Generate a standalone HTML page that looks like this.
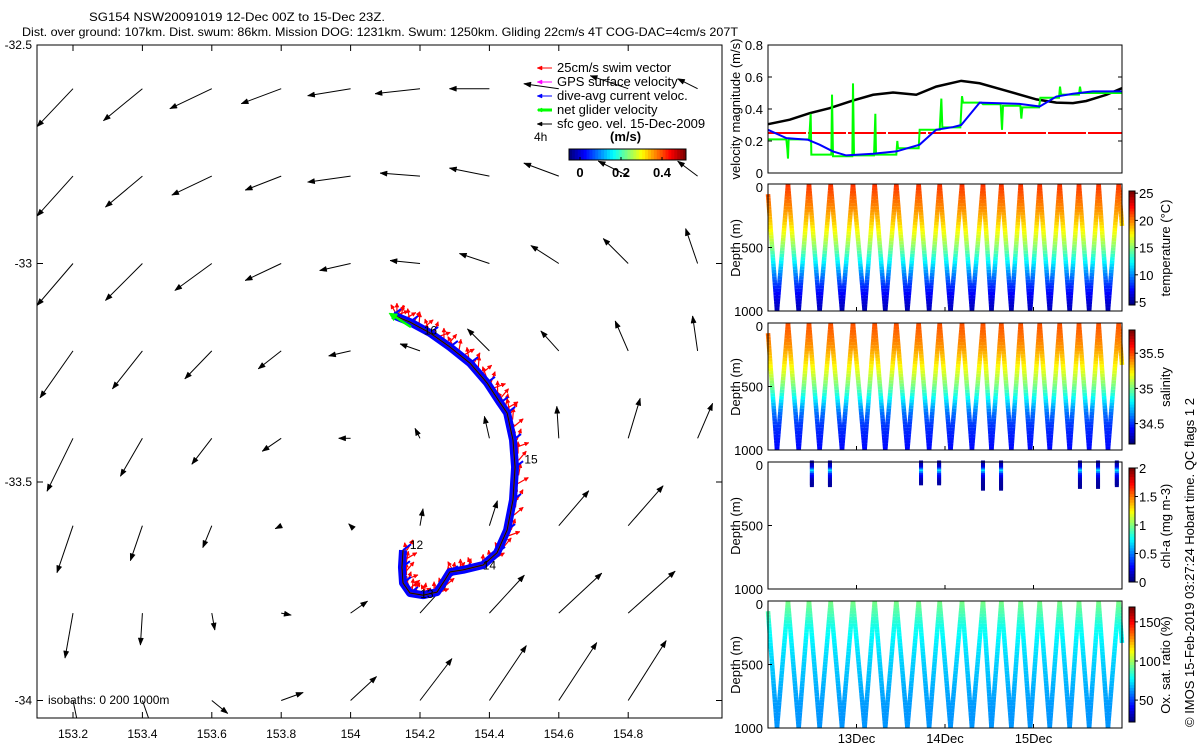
<!DOCTYPE html>
<html><head><meta charset="utf-8"><title>SG154 glider chart</title>
<style>
html,body{margin:0;padding:0;background:#fff;}
svg{display:block;font-family:"Liberation Sans",sans-serif;font-size:12px;}
</style></head>
<body>
<svg id="chart" width="1200" height="750" viewBox="0 0 1200 750" xmlns="http://www.w3.org/2000/svg">
<rect x="0" y="0" width="1200" height="750" fill="#fff"/>
<text x="89" y="21" textLength="296" lengthAdjust="spacingAndGlyphs">SG154 NSW20091019 12-Dec 00Z to 15-Dec 23Z.</text>
<text x="22" y="36" textLength="716" lengthAdjust="spacingAndGlyphs">Dist. over ground: 107km. Dist. swum: 86km. Mission DOG: 1231km. Swum: 1250km. Gliding 22cm/s 4T COG-DAC=4cm/s 207T</text>
<g id="map"></g>
<g id="vel"></g>
<g id="prof"></g>
<text transform="translate(1194,727) rotate(-90)" font-size="13">© IMOS 15-Feb-2019 03:27:24 Hobart time. QC flags 1  2</text>
</svg>
<script>
// ---------- DATA ----------
const gridLon = [153.2,153.4,153.6,153.8,154.0,154.2,154.4,154.6,154.8,155.0];
const gridLat = [-32.6,-32.8,-33.0,-33.2,-33.4,-33.6,-33.8,-34.0];
const quivU = [
 [-0.36,-0.39,-0.42,-0.40,-0.43,-0.45,-0.40,-0.35,-0.38,-0.20],
 [-0.36,-0.37,-0.40,-0.36,-0.43,-0.40,-0.40,-0.35,-0.30,-0.20],
 [-0.36,-0.37,-0.37,-0.36,-0.31,-0.30,-0.30,-0.28,-0.25,-0.12],
 [-0.33,-0.30,-0.27,-0.23,-0.22,-0.20,-0.22,-0.18,-0.13,-0.05],
 [-0.26,-0.22,-0.20,-0.19,-0.12,-0.05,-0.05,-0.02,0.12,0.15],
 [-0.16,-0.12,-0.09,-0.06,-0.02,0.03,0.08,0.30,0.35,0.00],
 [-0.08,-0.02,0.03,0.10,0.17,0.27,0.35,0.43,0.47,0.00],
 [0.10,0.14,0.16,0.22,0.26,0.32,0.37,0.38,0.38,0.00]];
const quivV = [
 [-0.38,-0.32,-0.20,-0.15,-0.07,-0.05,0.00,0.05,0.13,0.10],
 [-0.40,-0.31,-0.19,-0.14,-0.06,0.03,0.08,0.13,0.15,0.15],
 [-0.42,-0.37,-0.27,-0.17,-0.07,0.03,0.10,0.18,0.25,0.35],
 [-0.47,-0.38,-0.28,-0.18,-0.05,0.07,0.22,0.20,0.30,0.35],
 [-0.53,-0.38,-0.26,-0.13,0.00,0.10,0.22,0.32,0.40,0.35],
 [-0.47,-0.35,-0.22,-0.03,0.02,0.17,0.25,0.35,0.40,0.00],
 [-0.45,-0.32,-0.17,-0.02,0.12,0.30,0.38,0.40,0.42,0.00],
 [-0.48,-0.40,-0.13,0.08,0.24,0.42,0.55,0.58,0.60,0.00]];
const trackLon = [154.151,154.148,154.151,154.171,154.209,154.249,154.272,154.286,154.324,154.382,154.422,154.451,154.468,154.474,154.468,154.451,154.431,154.393,154.344,154.286,154.229,154.171,154.122];
const trackLat = [-33.656,-33.695,-33.731,-33.754,-33.759,-33.752,-33.724,-33.706,-33.701,-33.690,-33.662,-33.610,-33.541,-33.466,-33.404,-33.342,-33.319,-33.273,-33.228,-33.191,-33.159,-33.134,-33.118];
const dayLabels = ["12","13","14","15","16"];
const dayLon = [154.19,154.22,154.40,154.52,154.23];
const dayLat = [-33.653,-33.765,-33.70,-33.458,-33.163];
const geoT = [0,5.9,11.3,16.7,23,28.5,33.9,40.2,45.6,52.4,57.4,63.7,72.8,78.2,82.7,86.3,91.8,96];
const geoV = [0.305,0.333,0.374,0.405,0.453,0.489,0.503,0.489,0.54,0.576,0.561,0.52,0.46,0.44,0.437,0.45,0.489,0.53];
const dacT = [0,5,10.8,14,17.6,21.2,28.5,34.8,41.1,45.6,50.2,52.4,57.4,68.2,73.7,78.2,82.7,88.1,96];
const dacV = [0.27,0.218,0.208,0.177,0.135,0.11,0.12,0.135,0.177,0.27,0.287,0.3,0.44,0.432,0.416,0.478,0.495,0.51,0.51];
const netT = [0,4.97,5.24,5.42,5.6,11.12,11.3,11.57,11.75,17.18,17.36,17.63,22.87,23.05,23.32,28.75,29.11,29.29,34.8,35.07,35.26,40.86,41.13,46.56,47.01,47.28,52.16,52.61,52.88,57.86,58.31,63.1,63.46,63.73,68.43,68.7,68.98,73.5,73.86,78.92,79.19,79.46,84.34,84.61,84.89,96];
const netV = [0.21,0.21,0.15,0.09,0.21,0.21,0.26,0.37,0.115,0.115,0.49,0.105,0.105,0.56,0.11,0.11,0.37,0.115,0.115,0.2,0.155,0.155,0.27,0.27,0.465,0.285,0.285,0.48,0.44,0.44,0.43,0.43,0.27,0.42,0.42,0.34,0.41,0.41,0.47,0.47,0.54,0.49,0.49,0.54,0.5,0.5];
const swimV = 0.25;
const velTicks = [0,0.2,0.4,0.6,0.8];
const diveT = [0,2.44,5.42,8.32,11.12,14.0,17.0,20.07,23.05,26.2,28.93,31.8,34.8,37.8,40.86,43.7,46.56,49.5,52.61,55.3,58.31,60.6,63.28,66.0,68.52,71.1,73.68,76.4,79.1,81.8,84.34,87.1,89.67,92.2,95.1,96];
const diveZ = [80,1000,0,1000,0,1000,0,1000,0,1000,0,1000,0,1000,0,1000,0,1000,0,1000,0,1000,0,1000,0,1000,0,1000,0,1000,0,1000,0,1000,0,330];
const profZ = [0,100,200,300,400,500,600,700,800,900,1000];
const tempV = [21.8,20.8,19.8,18.6,17,15,12.5,10,8,6.5,5.6];
const salV = [35.5,35.45,35.38,35.28,35.15,35.0,34.8,34.6,34.5,34.45,34.42];
const oxV = [95,88,80,76,73,70,68,65,63,62,62];
const chlT = [11.9,16.8,41.5,46.4,58.3,63.2,84.6,89.5,94.6];
const chlMaxZ = [190,190,180,180,210,210,200,200,190];
const chlZ = [0,40,70,100,150,200];
const chlV = [0.08,0.15,0.7,0.3,0.08,0.05];
const dayTickT = [24,48,72];
const dayTickLab = ["13Dec","14Dec","15Dec"];

// ---------- HELPERS ----------
const NS="http://www.w3.org/2000/svg";
function mk(parent,tag,attrs){const e=document.createElementNS(NS,tag);for(const k in attrs)e.setAttribute(k,attrs[k]);parent.appendChild(e);return e;}
function txt(parent,x,y,s,attrs){const e=mk(parent,'text',Object.assign({x:x,y:y},attrs||{}));e.textContent=s;return e;}
function clamp(v){return Math.max(0,Math.min(1,v));}
function jet(f){f=clamp(f);const r=clamp(1.5-Math.abs(4*f-3)),g=clamp(1.5-Math.abs(4*f-2)),b=clamp(1.5-Math.abs(4*f-1));return `rgb(${Math.round(r*255)},${Math.round(g*255)},${Math.round(b*255)})`;}
function interp(xs,ys,x){if(x<=xs[0])return ys[0];for(let i=1;i<xs.length;i++){if(x<=xs[i]){const f=(x-xs[i-1])/(xs[i]-xs[i-1]);return ys[i-1]+f*(ys[i]-ys[i-1]);}}return ys[ys.length-1];}
function arrowHead(parent,x1,y1,x2,y2,color,len,wid){const dx=x2-x1,dy=y2-y1,L=Math.hypot(dx,dy)||1;const ux=dx/L,uy=dy/L;const bx=x2-ux*len,by=y2-uy*len;const p=`${x2},${y2} ${bx-uy*wid},${by+ux*wid} ${bx+uy*wid},${by-ux*wid}`;return mk(parent,'polygon',{points:p,fill:color,stroke:color,'stroke-width':0.5});}

// ---------- MAP ----------
const map=document.getElementById('map');
const MX0=37,MX1=722,MY0=45,MY1=718;
const mx=lon=>73+(lon-153.2)*347;
const my=lat=>45+(-32.5-lat)*437;
mk(map,'clipPath',{id:'mapclip'}).appendChild(document.createElementNS(NS,'rect'));
const cr=document.querySelector('#mapclip rect');cr.setAttribute('x',MX0);cr.setAttribute('y',MY0);cr.setAttribute('width',MX1-MX0);cr.setAttribute('height',MY1-MY0);
const quiv=mk(map,'g',{'clip-path':'url(#mapclip)'});


for(let j=0;j<gridLat.length;j++)for(let i=0;i<gridLon.length;i++){
  const u=quivU[j][i],v=quivV[j][i];if(u===0&&v===0)continue;
  const x1=mx(gridLon[i]),y1=my(gridLat[j]),x2=x1+u*100,y2=y1-v*100;
  const g=mk(quiv,'g',{});
  
  
  mk(g,'line',{x1:x1,y1:y1,x2:x2,y2:y2,stroke:'#000','stroke-width':1});
  arrowHead(g,x1,y1,x2,y2,'#000',7,2.6);
}
const tg=mk(map,'g',{'clip-path':'url(#mapclip)'});


const tp=trackLon.map((l,i)=>[mx(l),my(trackLat[i])]);
const swimAng=[-60,-100,-30,-80,-120,-50,-90,-20,-70,-110,-40,-85];
tp.forEach((p,i)=>{for(let k=0;k<4;k++){const q=i<tp.length-1?[p[0]+(tp[i+1][0]-p[0])*k/4,p[1]+(tp[i+1][1]-p[1])*k/4]:p;
  const a=swimAng[(i*4+k)%swimAng.length]*Math.PI/180;const ox=q[0]+4,oy=q[1];const x2=ox+Math.cos(a)*12,y2=oy+Math.sin(a)*12;
  const s=mk(tg,'line',{x1:ox,y1:oy,x2:x2,y2:y2,stroke:'#f00','stroke-width':1.2});
  
  
  arrowHead(tg,ox,oy,x2,y2,'#f00',4,2);}});
const pts=tp.map(p=>p.join(',')).join(' ');
const band=mk(tg,'polyline',{points:pts,fill:'none',stroke:'#0000ff','stroke-width':8,'stroke-linejoin':'round'});


tp.forEach((p,i)=>{mk(tg,'line',{x1:p[0],y1:p[1],x2:p[0]+8,y2:p[1]-6,stroke:'#00f','stroke-width':2});});
mk(tg,'polyline',{points:pts,fill:'none',stroke:'#8a3a00','stroke-width':1.5});
mk(tg,'polyline',{points:pts,fill:'none',stroke:'#000','stroke-width':0.8});
const gEnd=tp[tp.length-1];
mk(tg,'line',{x1:gEnd[0]+18,y1:gEnd[1]+12,x2:gEnd[0]-2,y2:gEnd[1]-1,stroke:'#00ff00','stroke-width':2.5});
arrowHead(tg,gEnd[0]+18,gEnd[1]+12,gEnd[0]-4,gEnd[1]-2,'#00ff00',8,4);
dayLabels.forEach((s,i)=>{const t=txt(map,mx(dayLon[i]),my(dayLat[i]),s,{'text-anchor':'middle'});
 
 });
const mb=mk(map,'rect',{x:MX0,y:MY0,width:MX1-MX0,height:MY1-MY0,fill:'none',stroke:'#000','stroke-width':1});


[153.2,153.4,153.6,153.8,154,154.2,154.4,154.6,154.8].forEach(l=>{const x=mx(l);mk(map,'line',{x1:x,y1:MY1,x2:x,y2:MY1-6,stroke:'#000'});mk(map,'line',{x1:x,y1:MY0,x2:x,y2:MY0+6,stroke:'#000'});
 const t=txt(map,x,738,String(l),{'text-anchor':'middle'});
 
 });
[-32.5,-33,-33.5,-34].forEach(l=>{const y=my(l);mk(map,'line',{x1:MX0,y1:y,x2:MX0+6,y2:y,stroke:'#000'});mk(map,'line',{x1:MX1,y1:y,x2:MX1-6,y2:y,stroke:'#000'});
 const t=txt(map,32,y+4,String(l),{'text-anchor':'end'});
 
 });
const iso=txt(map,48,704,'isobaths: 0   200  1000m',{'xml:space':'preserve'});


const lg=mk(map,'g',{});


const legItems=[['25cm/s swim vector','#f00',1],['GPS surface velocity','#ff00ff',1],['dive-avg current veloc.','#00f',1],['net glider velocity','#00ff00',3],['sfc geo. vel. 15-Dec-2009','#000',1]];
legItems.forEach((it,i)=>{const y=68+i*14;const g=mk(lg,'g',{});
 
 
 mk(g,'line',{x1:538,y1:y,x2:552,y2:y,stroke:it[1],'stroke-width':it[2]});arrowHead(g,552,y,537,y,it[1],5,2);
 txt(g,557,y+4,it[0],{'font-size':'13'});});
txt(lg,534,141,'4h');
txt(lg,610,141,'(m/s)',{'font-weight':'bold','font-size':'13'});
const cbg=mk(lg,'g',{});


for(let k=0;k<40;k++){mk(cbg,'rect',{x:569+k*117/40,y:149,width:117/40+0.5,height:11,fill:jet(k/39)});}
mk(cbg,'rect',{x:569,y:149,width:117,height:11,fill:'none',stroke:'#000'});
[[0,580],[0.2,621],[0.4,662]].forEach(a=>{mk(cbg,'line',{x1:a[1],y1:160,x2:a[1],y2:157,stroke:'#000'});txt(cbg,a[1],177,String(a[0]),{'text-anchor':'middle','font-weight':'bold','font-size':'13'});});

// ---------- VELOCITY PANEL ----------
const vel=document.getElementById('vel');
const PX0=768,PX1=1122;
const tx=t=>PX0+t*(PX1-PX0)/96;
const vy=v=>173-v*160;
const swl=mk(vel,'line',{x1:tx(0),y1:vy(swimV),x2:tx(96),y2:vy(swimV),stroke:'#f00','stroke-width':2,'stroke-dasharray':'38,2'});


const gl=mk(vel,'polyline',{points:geoT.map((t,i)=>tx(t)+','+vy(geoV[i])).join(' '),fill:'none',stroke:'#000','stroke-width':2.5});


const nl=mk(vel,'polyline',{points:netT.map((t,i)=>tx(t)+','+vy(netV[i])).join(' '),fill:'none',stroke:'#00ff00','stroke-width':2});


const dl=mk(vel,'polyline',{points:dacT.map((t,i)=>tx(t)+','+vy(dacV[i])).join(' '),fill:'none',stroke:'#0000ff','stroke-width':2});


mk(vel,'rect',{x:PX0,y:45,width:PX1-PX0,height:128,fill:'none',stroke:'#000'});
velTicks.forEach(v=>{const y=vy(v);mk(vel,'line',{x1:PX0,y1:y,x2:PX0+4,y2:y,stroke:'#000'});mk(vel,'line',{x1:PX1,y1:y,x2:PX1-4,y2:y,stroke:'#000'});
 const t=txt(vel,763,y+5,String(v),{'text-anchor':'end','font-size':'13'});
 
 });
const vyl=txt(vel,0,0,'velocity magnitude (m/s)',{transform:'translate(740,109) rotate(-90)','text-anchor':'middle','font-size':'13'});



// ---------- PROFILE PANELS ----------
const prof=document.getElementById('prof');
const panels=[
 {top:184,vals:tempV,lo:4.45,hi:25.4,label:'temperature (°C)',ticks:[5,10,15,20,25],cb:[191,305],name:'temperature'},
 {top:323,vals:salV,lo:34.21,hi:35.83,label:'salinity',ticks:[34.5,35,35.5],cb:[330,444],name:'salinity'},
 {top:462,vals:null,lo:0,hi:2,label:'chl-a (mg m-3)',ticks:[0,0.5,1,1.5,2],cb:[468,582],name:'chlorophyll'},
 {top:601,vals:oxV,lo:22,hi:169,label:'Ox. sat. ratio (%)',ticks:[50,100,150],cb:[607,722],name:'oxygen'}];
panels.forEach((P,pi)=>{
 const g=mk(prof,'g',{});
 
 
 const zy=z=>P.top+z*127/1000;
 const marks=mk(g,'g',{});
 if(P.vals){
  for(let k=1;k<diveT.length;k++){const t0=diveT[k-1],t1=diveT[k],z0=diveZ[k-1],z1=diveZ[k];const n=Math.max(1,Math.ceil(Math.abs(z1-z0)/25));
   for(let s=0;s<n;s++){const a=s/n,b=(s+1)/n;const zm=z0+(z1-z0)*(a+b)/2;const c=jet((interp(profZ,P.vals,zm)-P.lo)/(P.hi-P.lo));
    const ln=mk(marks,'line',{x1:tx(t0+(t1-t0)*a),y1:zy(z0+(z1-z0)*a),x2:tx(t0+(t1-t0)*b),y2:zy(z0+(z1-z0)*b),stroke:c,'stroke-width':4.5});
    
    }}
 } else {
  chlT.forEach((t,i)=>{for(let z=0;z<=chlMaxZ[i];z+=14){const c=jet((interp(chlZ,chlV,z)-P.lo)/(P.hi-P.lo));
   const r=mk(marks,'rect',{x:tx(t)-2,y:zy(z)-1.5,width:4,height:3.5,fill:c});
   
   }});
 }
 mk(g,'rect',{x:PX0,y:P.top,width:PX1-PX0,height:127,fill:'none',stroke:'#000'});
 [0,500,1000].forEach(z=>{const y=zy(z);mk(g,'line',{x1:PX0,y1:y,x2:PX0+4,y2:y,stroke:'#000'});
  const t=txt(g,763,y+(z===0?8:5),String(z),{'text-anchor':'end','font-size':'13'});
  
  });
 dayTickT.forEach(t=>{mk(g,'line',{x1:tx(t),y1:P.top+127,x2:tx(t),y2:P.top+123,stroke:'#000'});});
 const yl=txt(g,0,0,'Depth (m)',{transform:`translate(740,${P.top+64}) rotate(-90)`,'text-anchor':'middle','font-size':'13'});
 
 
 const cb=mk(g,'g',{});
 
 
 const h=P.cb[1]-P.cb[0];
 for(let k=0;k<40;k++){mk(cb,'rect',{x:1129,y:P.cb[1]-(k+1)*h/40,width:6,height:h/40+0.5,fill:jet(k/39)});}
 mk(cb,'rect',{x:1129,y:P.cb[0],width:6,height:h,fill:'none',stroke:'#000'});
 P.ticks.forEach(v=>{const y=P.cb[1]-(v-P.lo)/(P.hi-P.lo)*h;mk(cb,'line',{x1:1135,y1:y,x2:1138,y2:y,stroke:'#000'});txt(cb,1139,y+5,String(v),{'font-size':'13'});});
 const cl=txt(cb,0,0,P.label,{transform:`translate(1170,${P.top+64}) rotate(-90)`,'text-anchor':'middle','font-size':'13'});
 
 
});
dayTickT.forEach((t,i)=>{const l=txt(prof,tx(t),743,dayTickLab[i],{'text-anchor':'middle','font-size':'13'});
 
 });
</script>
</body></html>
